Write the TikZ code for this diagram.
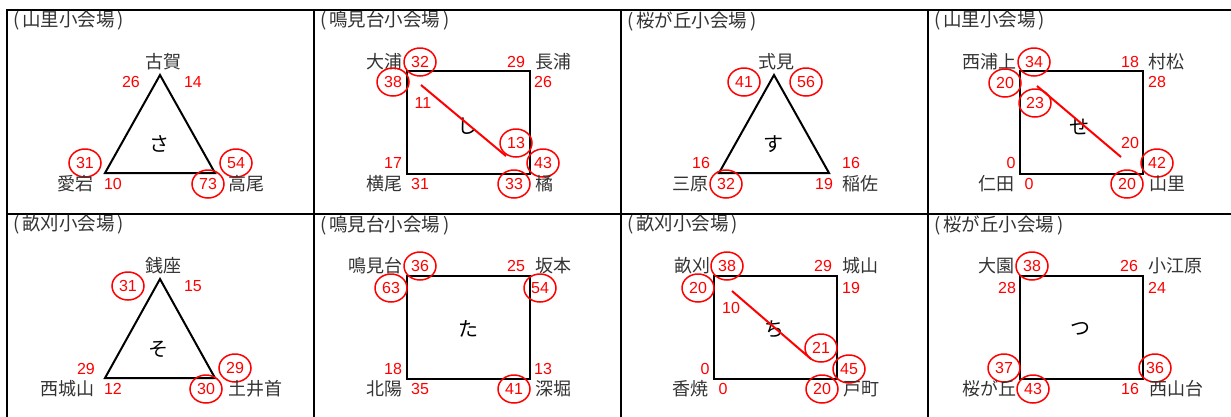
\documentclass[tikz,border=0pt]{standalone}
\usepackage{fontspec}
\newfontfamily\jpfont{Noto Sans CJK JP}
\newfontfamily\numfont{Liberation Sans}
\usetikzlibrary{shapes.geometric}
\newcommand{\hall}[1]{(\hspace{3pt}#1\hspace{3pt})}

\begin{document}
\begin{tikzpicture}[x=1pt, y=-1pt]
  \tikzset{
    gridline/.style={line width=2pt},
    zone/.style={draw, line width=2pt, line join=miter},
    title/.style={font=\jpfont\fontsize{18.5}{18}\selectfont, text=black!80, anchor=west, inner sep=0},
    place/.style={font=\jpfont\fontsize{18}{18}\selectfont, text=black!80, inner sep=0},
    kana/.style={font=\jpfont\fontsize{20}{20}\selectfont, inner sep=0},
    num/.style={font=\numfont\fontsize{16}{16}\selectfont, text=red, inner sep=0},
    hit/.style={num, draw=red, line width=1.5pt, ellipse, minimum width=32pt, minimum height=28pt},
    route/.style={draw=red, line width=2pt}
  }
  \useasboundingbox (0,0) rectangle (1231,416);
  % grid
  \draw[gridline] (7,425) -- (7,10) -- (1240,10);
  \draw[gridline] (7,214) -- (1240,214);
  \foreach \x in {314,621,928} \draw[gridline] (\x,10) -- (\x,425);

  % sa
  \begin{scope}[shift={(7,10)}]
    \node[title] (sa-t) at (6,11) {\hall{山里小会場}};
    \coordinate (sa-a) at (153,65);
    \coordinate (sa-b) at (98,163);
    \coordinate (sa-c) at (208,163);
    \draw[zone] (sa-a) -- (sa-b) -- (sa-c) -- cycle;
    \node[kana] (sa-k) at (152,134) {さ};
    \node[place] (sa-n1) at (156,52) {古賀};
    \node[num] (sa-1) at (124,72) {26};
    \node[num] (sa-2) at (186,72) {14};
    \node[hit] (sa-3) at (78,153) {31};
    \node[place, anchor=east] (sa-n2) at (87,174) {愛宕};
    \node[num] (sa-4) at (106,174) {10};
    \node[hit] (sa-5) at (229,153) {54};
    \node[hit] (sa-6) at (201,174) {73};
    \node[place, anchor=west] (sa-n3) at (221,174) {高尾};
  \end{scope}

  % shi
  \begin{scope}[shift={(314,10)}]
    \node[title] (shi-t) at (6,11) {\hall{鳴見台小会場}};
    \coordinate (shi-tl) at (93,61);
    \coordinate (shi-br) at (216,164);
    \draw[zone] (shi-tl) rectangle (shi-br);
    \node[kana] (shi-k) at (153,116) {し};
    \node[place, anchor=east] (shi-n1) at (89,52) {大浦};
    \node[hit] (shi-1) at (106,52) {32};
    \node[hit] (shi-2) at (79,72) {38};
    \node[num] (shi-3) at (202,52) {29};
    \node[place, anchor=west] (shi-n2) at (221,52) {長浦};
    \node[num] (shi-4) at (229,72) {26};
    \node[num] (shi-5) at (109,93) {11};
    \node[hit] (shi-6) at (202,133) {13};
    \node[hit] (shi-7) at (229,153) {43};
    \node[num] (shi-8) at (79,153) {17};
    \node[place, anchor=east] (shi-n3) at (89,174) {横尾};
    \node[num] (shi-9) at (106,174) {31};
    \node[hit] (shi-10) at (200,174) {33};
    \node[place, anchor=west] (shi-n4) at (221,174) {橘};
    \coordinate (shi-from) at (107,75);
    \coordinate (shi-to) at (192,146);
    \draw[route] (shi-from) -- (shi-to);
  \end{scope}

  % su
  \begin{scope}[shift={(621,10)}]
    \node[title] (su-t) at (6,11) {\hall{桜が丘小会場}};
    \coordinate (su-a) at (153,65);
    \coordinate (su-b) at (98,163);
    \coordinate (su-c) at (208,163);
    \draw[zone] (su-a) -- (su-b) -- (su-c) -- cycle;
    \node[kana] (su-k) at (152,134) {す};
    \node[place] (su-n1) at (155,52) {式見};
    \node[hit] (su-1) at (123,72) {41};
    \node[hit] (su-2) at (185,72) {56};
    \node[num] (su-3) at (80,153) {16};
    \node[place, anchor=east] (su-n2) at (88,174) {三原};
    \node[hit] (su-4) at (105,174) {32};
    \node[num] (su-5) at (230,153) {16};
    \node[num] (su-6) at (203,174) {19};
    \node[place, anchor=west] (su-n3) at (221,174) {稲佐};
  \end{scope}

  % se
  \begin{scope}[shift={(928,10)}]
    \node[title] (se-t) at (6,11) {\hall{山里小会場}};
    \coordinate (se-tl) at (92,61);
    \coordinate (se-br) at (215,164);
    \draw[zone] (se-tl) rectangle (se-br);
    \node[kana] (se-k) at (151,117) {せ};
    \node[place, anchor=east] (se-n1) at (89,52) {西浦上};
    \node[hit] (se-1) at (106,52) {34};
    \node[hit] (se-2) at (77,73) {20};
    \node[hit] (se-3) at (107,93) {23};
    \node[num] (se-4) at (202,52) {18};
    \node[place, anchor=west] (se-n2) at (220,52) {村松};
    \node[num] (se-5) at (229,72) {28};
    \node[num] (se-6) at (202,133) {20};
    \node[hit] (se-7) at (229,153) {42};
    \node[num] (se-8) at (83,153) {0};
    \node[place, anchor=east] (se-n3) at (87,174) {仁田};
    \node[num] (se-9) at (101,174) {0};
    \node[hit] (se-10) at (199,174) {20};
    \node[place, anchor=west] (se-n4) at (221,174) {山里};
    \coordinate (se-from) at (109,76);
    \coordinate (se-to) at (193,147);
    \draw[route] (se-from) -- (se-to);
  \end{scope}

  % so
  \begin{scope}[shift={(7,214)}]
    \node[title] (so-t) at (6,11) {\hall{畝刈小会場}};
    \coordinate (so-a) at (153,65);
    \coordinate (so-b) at (98,164);
    \coordinate (so-c) at (208,164);
    \draw[zone] (so-a) -- (so-b) -- (so-c) -- cycle;
    \node[kana] (so-k) at (151,135) {そ};
    \node[place] (so-n1) at (156,52) {銭座};
    \node[hit] (so-1) at (121,72) {31};
    \node[num] (so-2) at (186,72) {15};
    \node[num] (so-3) at (79,155) {29};
    \node[place, anchor=east] (so-n2) at (88,175) {西城山};
    \node[num] (so-4) at (106,175) {12};
    \node[hit] (so-5) at (228,154) {29};
    \node[hit] (so-6) at (199,175) {30};
    \node[place, anchor=west] (so-n3) at (221,175) {土井首};
  \end{scope}

  % ta
  \begin{scope}[shift={(314,214)}]
    \node[title] (ta-t) at (6,11) {\hall{鳴見台小会場}};
    \coordinate (ta-tl) at (93,62);
    \coordinate (ta-br) at (216,165);
    \draw[zone] (ta-tl) rectangle (ta-br);
    \node[kana] (ta-k) at (154,115) {た};
    \node[place, anchor=east] (ta-n1) at (89,52) {鳴見台};
    \node[hit] (ta-1) at (106,52) {36};
    \node[hit] (ta-2) at (77,74) {63};
    \node[num] (ta-3) at (202,52) {25};
    \node[place, anchor=west] (ta-n2) at (221,52) {坂本};
    \node[hit] (ta-4) at (226,74) {54};
    \node[num] (ta-5) at (79,155) {18};
    \node[place, anchor=east] (ta-n3) at (89,175) {北陽};
    \node[num] (ta-6) at (106,175) {35};
    \node[num] (ta-7) at (229,155) {13};
    \node[hit] (ta-8) at (200,175) {41};
    \node[place, anchor=west] (ta-n4) at (221,175) {深堀};
  \end{scope}

  % chi
  \begin{scope}[shift={(621,214)}]
    \node[title] (chi-t) at (6,11) {\hall{畝刈小会場}};
    \coordinate (chi-tl) at (93,62);
    \coordinate (chi-br) at (216,165);
    \draw[zone] (chi-tl) rectangle (chi-br);
    \node[kana] (chi-k) at (153,115) {ち};
    \node[place, anchor=east] (chi-n1) at (90,52) {畝刈};
    \node[hit] (chi-1) at (106,52) {38};
    \node[hit] (chi-2) at (77,74) {20};
    \node[num] (chi-3) at (110,94) {10};
    \node[num] (chi-4) at (202,52) {29};
    \node[place, anchor=west] (chi-n2) at (221,52) {城山};
    \node[num] (chi-5) at (230,74) {19};
    \node[hit] (chi-6) at (200,134) {21};
    \node[hit] (chi-7) at (228,155) {45};
    \node[num] (chi-8) at (84,155) {0};
    \node[place, anchor=east] (chi-n3) at (88,175) {香焼};
    \node[num] (chi-9) at (102,175) {0};
    \node[hit] (chi-10) at (201,175) {20};
    \node[place, anchor=west] (chi-n4) at (222,175) {戸町};
    \coordinate (chi-from) at (111,77);
    \coordinate (chi-to) at (190,145);
    \draw[route] (chi-from) -- (chi-to);
  \end{scope}

  % tsu
  \begin{scope}[shift={(928,214)}]
    \node[title] (tsu-t) at (6,11) {\hall{桜が丘小会場}};
    \coordinate (tsu-tl) at (92,62);
    \coordinate (tsu-br) at (215,165);
    \draw[zone] (tsu-tl) rectangle (tsu-br);
    \node[kana] (tsu-k) at (152,115) {つ};
    \node[place, anchor=east] (tsu-n1) at (87,52) {大園};
    \node[hit] (tsu-1) at (104,52) {38};
    \node[num] (tsu-2) at (79,74) {28};
    \node[num] (tsu-3) at (201,52) {26};
    \node[place, anchor=west] (tsu-n2) at (220,52) {小江原};
    \node[num] (tsu-4) at (229,74) {24};
    \node[hit] (tsu-5) at (76,154) {37};
    \node[place, anchor=east] (tsu-n3) at (89,175) {桜が丘};
    \node[hit] (tsu-6) at (105,175) {43};
    \node[hit] (tsu-7) at (227,154) {36};
    \node[num] (tsu-8) at (202,175) {16};
    \node[place, anchor=west] (tsu-n4) at (221,175) {西山台};
  \end{scope}
\end{tikzpicture}
\end{document}
